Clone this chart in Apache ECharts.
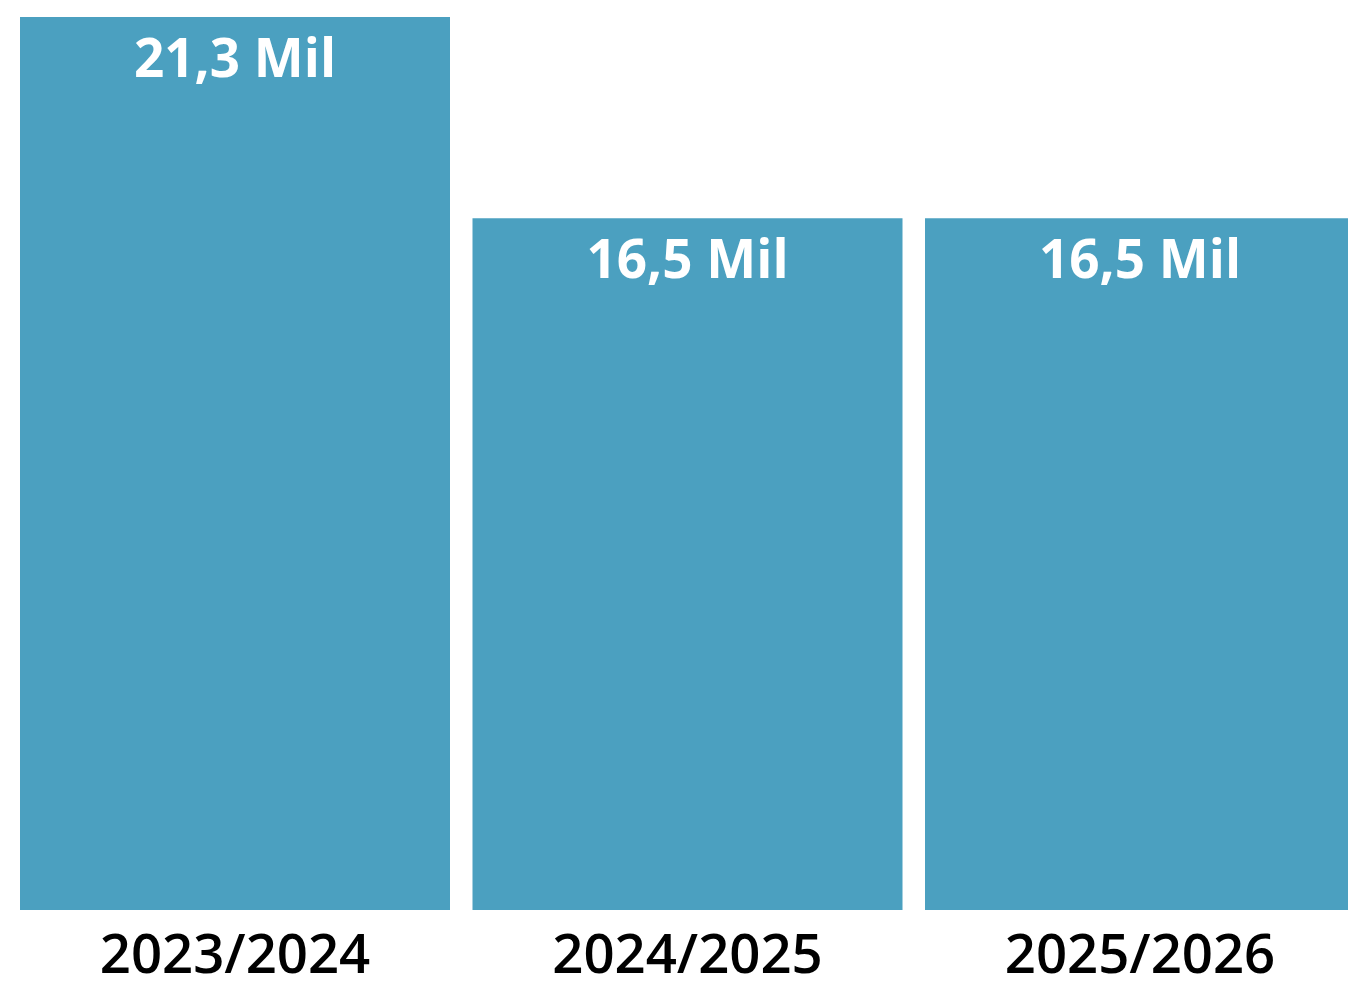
<!DOCTYPE html>
<html>
<head>
<meta charset="utf-8">
<script src="https://cdn.jsdelivr.net/npm/echarts@6/dist/echarts.min.js"></script>
<style>
  html, body { margin: 0; padding: 0; background: #fff; }
  #chart { width: 1348px; height: 999px; }
</style>
</head>
<body>
<div id="chart"></div>
<script>
const seasons = ['2023/2024', '2024/2025', '2025/2026']
const values = [21.3, 16.5, 16.5]

const chart = echarts.init(document.getElementById('chart'))

chart.setOption({
  animation: false,
  grid: {
    left: 8.75,
    top: 17,
    width: 1357.5,
    bottom: 89,
    containLabel: false,
    outerBoundsMode: 'none'
  },
  xAxis: {
    type: 'category',
    data: seasons,
    axisLine: { show: false },
    axisTick: { show: false },
    axisLabel: {
      color: '#000',
      fontFamily: 'Open Sans',
      fontWeight: 600,
      fontSize: 54.5,
      margin: 20
    }
  },
  yAxis: {
    type: 'value',
    min: 0,
    max: 21.3,
    show: false,
    splitLine: { show: false }
  },
  series: [
    {
      type: 'bar',
      data: values,
      barWidth: 430,
      itemStyle: { color: '#4BA0C0' },
      label: {
        show: true,
        position: 'insideTop',
        distance: 18,
        color: '#fff',
        fontFamily: 'Open Sans',
        fontWeight: 'bold',
        fontSize: 53,
        formatter: p => String(p.value).replace('.', ',') + ' Mil'
      }
    }
  ]
})
</script>
</body>
</html>
